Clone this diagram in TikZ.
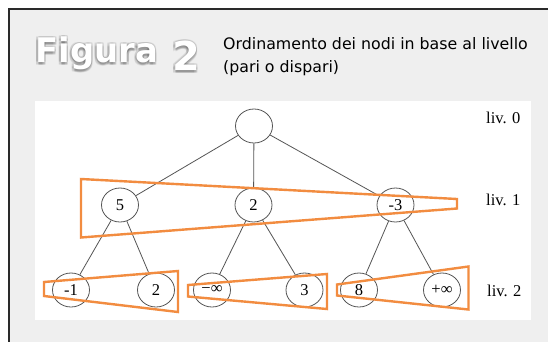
\documentclass[tikz,border=0pt]{standalone}
\usepackage{fontspec}
\setmainfont{Liberation Serif}
\newfontfamily\verd{DejaVu Sans}
\usetikzlibrary{shapes.geometric}
\definecolor{framegrey}{HTML}{EFEFEF}
\definecolor{framedark}{HTML}{2A2A2A}
\definecolor{trapor}{RGB}{242,140,64}
\definecolor{linegrey}{HTML}{555555}
\tikzset{
  treenode/.style={ellipse, draw=linegrey, line width=0.8pt, minimum width=37pt, minimum height=34pt, inner sep=0pt, fill=white, font=\fontsize{16.5}{18}\selectfont},
  edge/.style={draw=linegrey, line width=0.8pt},
  trap/.style={draw=trapor, line width=2.4pt, line join=miter},
  levlabel/.style={anchor=base west, inner sep=0pt, font=\fontsize{16.5}{18}\selectfont},
  desc/.style={anchor=base west, inner sep=0pt, font=\verd\fontsize{15.8}{18}\selectfont},
  titlefig/.style={anchor=base west, inner sep=0pt, font=\verd\bfseries\fontsize{34}{36}\selectfont},
  titlenum/.style={anchor=base west, inner sep=0pt, font=\verd\bfseries\fontsize{40}{42}\selectfont},
  glow/.style={text=black, text opacity=0.07}
}
\begin{document}
\begin{tikzpicture}[x=1pt,y=-1pt]
\useasboundingbox (0,0) rectangle (548,341);
% frame
\fill[white] (0,0) rectangle (548,341);
\fill[framegrey] (9,9) rectangle (560,360);
\draw[framedark, line width=2pt] (9,360) -- (9,9) -- (560,9);
% title with glow
\foreach \dx in {-1.5,0,1.5}{
  \foreach \dy in {-1,0.5,2,3.5}{
    \node[titlefig, glow] at (35+\dx,62+\dy) {Figura};
    \node[titlenum, glow] at (172+\dx,70+\dy) {2};
  }
}
\node[titlefig, text=white] (fig) at (35,62) {Figura};
\node[titlenum, text=white] (num) at (172,70) {2};
\node[desc] (d1) at (223,49) {Ordinamento dei nodi in base al livello};
\node[desc] (d2) at (223,72) {(pari o dispari)};
% white panel
\fill[white] (35,101) rectangle (531,320);
% nodes
\node[treenode] (r) at (254,126) {};
\node[treenode] (a) at (120,205) {5};
\node[treenode] (b) at (253.5,205) {2};
\node[treenode] (c) at (395.5,205) {-3};
\node[treenode] (a1) at (71,290) {-1};
\node[treenode] (a2) at (156,290) {2};
\node[treenode] (b1) at (212,290) {−∞};
\node[treenode] (b2) at (304.5,290) {3};
\node[treenode] (c1) at (359,290) {8};
\node[treenode] (c2) at (442,290) {+∞};
% edges
\draw[edge] (r) -- (a);
\draw[edge] (r) -- (b);
\draw[edge] (r) -- (c);
\draw[edge] (a) -- (a1);
\draw[edge] (a) -- (a2);
\draw[edge] (b) -- (b1);
\draw[edge] (b) -- (b2);
\draw[edge] (c) -- (c1);
\draw[edge] (c) -- (c2);
% level labels
\node[levlabel] (l0) at (486,123) {liv. 0};
\node[levlabel] (l1) at (486,205) {liv. 1};
\node[levlabel] (l2) at (487,296) {liv. 2};
% trapezoids
\draw[trap] (81,179) -- (457,199) -- (457,208.5) -- (81,237.5) -- cycle;
\draw[trap] (44,282) -- (178,271) -- (178,312) -- (44,296) -- cycle;
\draw[trap] (188,285) -- (327,274) -- (327,309) -- (188,296.5) -- cycle;
\draw[trap] (337,284.5) -- (468.5,266.5) -- (468.5,309.5) -- (337,295.5) -- cycle;
\end{tikzpicture}
\end{document}
